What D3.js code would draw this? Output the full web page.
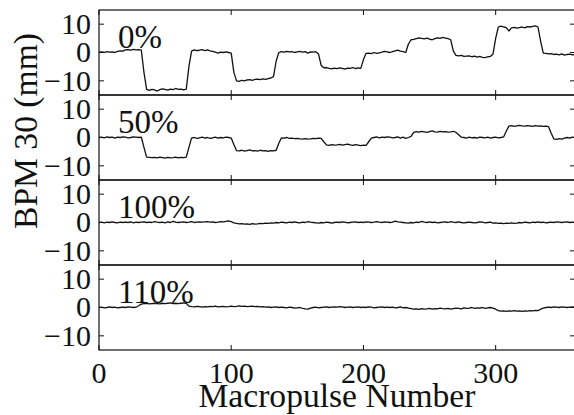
<!DOCTYPE html>
<html><head><meta charset="utf-8">
<script src="https://cdn.jsdelivr.net/npm/d3@7"></script>
<style>body{margin:0;background:#fff}svg{display:block}</style>
</head><body>
<svg id="chart" width="574" height="415" font-family="Liberation Serif"></svg>
<script>
// Sampling interval of the traces (macropulses between stored points)
const pulseStep = 2;
const xTicks = [0, 100, 200, 300];
const yTicks = [-10, 0, 10];
const panelLabels = ["0%", "50%", "100%", "110%"];
const xTitle = "Macropulse Number";
const yTitle = "BPM 30 (mm)";

const bpm0 = [
  0.1, 0.2, 0.0, 0.3, 0.1, 0.2, 0.0, 0.4, 0.6, 0.5,
  0.9, 1.0, 0.8, 1.1, 0.9, 1.0, 0.8, -7.0, -13.0, -13.4,
  -13.0, -13.2, -13.6, -13.1, -12.8, -13.0, -13.3, -12.9, -13.1, -12.7,
  -13.0, -12.9, -13.2, -12.9, -5.0, 0.5, 0.9, 0.7, 0.8, 1.0,
  0.7, 0.9, 0.6, 0.4, 0.1, -0.2, 0.1, 0.0, 0.2, 0.0,
  -0.2, -7.0, -10.0, -10.2, -9.8, -10.0, -9.7, -9.6, -9.8, -9.5,
  -9.4, -9.6, -9.3, -9.5, -9.2, -9.0, -8.5, -3.0, 0.0, 0.3,
  0.1, 0.4, 0.2, 0.3, 0.0, 0.2, 0.4, 0.1, 0.3, -0.2,
  0.2, 0.1, 0.3, -0.5, -4.5, -5.4, -5.3, -5.6, -5.8, -5.5,
  -5.7, -5.4, -5.6, -5.9, -5.5, -5.6, -5.3, -5.7, -5.4, -5.6,
  -2.5, -0.3, -0.2, -0.4, 0.0, -0.3, -0.1, 0.1, 0.4, 0.2,
  0.0, 0.3, 0.6, 0.8, 0.5, 0.3, 0.0, 3.0, 4.5, 4.6,
  4.9, 5.2, 5.0, 4.8, 5.1, 4.7, 4.5, 4.9, 5.2, 5.0,
  5.3, 5.1, 4.9, 4.5, 0.5, -1.0, -1.2, -1.0, -1.4, -1.3,
  -1.2, -1.5, -1.3, -1.6, -1.4, -1.7, -1.8, -1.5, -1.4, -0.5,
  5.0, 9.0, 9.3, 9.0, 8.8, 7.6, 8.7, 8.9, 8.6, 8.8,
  9.0, 8.7, 9.1, 9.0, 9.2, 9.4, 9.0, 4.0, -0.2, -0.3,
  -0.5, -0.4, -0.7, -0.6, -0.8, -0.5, -0.9, -0.7, -0.6, -0.8,
  -0.7
];
const bpm50 = [
  0.0, 0.1, -0.1, 0.2, 0.0, 0.1, -0.2, 0.1, 0.0, 0.2,
  0.1, -0.1, 0.0, 0.2, 0.1, 0.0, 0.1, -3.5, -6.9, -7.0,
  -7.1, -7.0, -7.2, -6.9, -7.1, -7.3, -7.0, -7.2, -7.1, -6.9,
  -7.2, -7.0, -7.1, -6.9, -3.5, -0.2, 0.0, -0.3, -0.1, 0.1,
  -0.2, 0.0, -0.3, -0.1, 0.1, -0.2, 0.0, -0.1, 0.1, 0.0,
  -0.2, -2.5, -4.6, -4.7, -4.5, -4.8, -4.6, -4.4, -4.7, -4.6,
  -4.8, -4.5, -4.7, -4.6, -4.9, -4.6, -4.7, -4.5, -2.0, -0.1,
  -0.2, 0.0, -0.3, -0.2, -0.4, -0.3, -0.5, -0.6, -0.4, -0.6,
  -0.5, -0.3, -0.4, -0.2, -0.3, -1.5, -2.6, -2.8, -2.5, -2.7,
  -2.6, -2.4, -2.7, -2.5, -2.3, -2.6, -2.8, -2.5, -2.7, -2.9,
  -2.7, -2.8, -1.5, -0.2, 0.0, 0.2, -0.1, 0.1, 0.0, 0.2,
  0.1, -0.1, 0.0, 0.2, -0.2, 0.1, -0.3, 0.0, 0.4, 1.8,
  2.1, 1.9, 2.2, 2.0, 1.8, 2.1, 2.3, 2.0, 1.9, 2.2,
  2.0, 2.1, 1.9, 2.0, 2.2, 1.8, 1.0, 0.1, 0.0, -0.2,
  0.1, -0.1, 0.0, -0.2, 0.1, 0.0, -0.1, 0.1, -0.2, 0.0,
  0.1, -0.1, 0.0, 0.2, 2.2, 4.0, 4.2, 3.9, 4.1, 4.3,
  4.1, 4.0, 4.2, 4.1, 3.9, 4.2, 4.0, 4.1, 3.9, 4.0,
  3.8, 1.5, -0.5, -0.7, -0.4, -0.6, -0.2, 0.0, -0.2, 0.1,
  0.0
];
const bpm100 = [
  0.0, 0.1, -0.1, 0.1, 0.0, 0.2, 0.0, -0.1, 0.1, 0.0,
  0.1, 0.0, 0.2, -0.1, 0.1, 0.0, 0.1, 0.2, 0.0, 0.1,
  0.0, 0.3, 0.1, 0.0, 0.1, -0.1, 0.2, 0.0, 0.4, 0.1,
  0.0, 0.1, 0.2, 0.0, 0.1, 0.3, 0.0, 0.1, 0.2, 0.1,
  0.2, 0.3, 0.1, 0.2, 0.0, 0.1, 0.3, 0.2, 0.4, 0.6,
  0.3, -0.1, -0.3, -0.5, -0.4, -0.6, -0.5, -0.7, -0.4, -0.6,
  -0.5, -0.3, -0.4, -0.2, -0.3, -0.1, -0.2, 0.0, -0.1, 0.1,
  0.0, -0.1, 0.1, 0.0, 0.2, 0.0, -0.1, 0.1, 0.0, 0.3,
  0.1, 0.0, -0.1, -0.2, 0.0, -0.1, 0.1, 0.0, -0.2, 0.0,
  0.1, 0.0, 0.2, 0.1, -0.1, 0.0, 0.1, 0.2, 0.0, 0.1,
  0.0, 0.2, 0.1, 0.0, 0.1, 0.3, 0.1, 0.0, 0.2, 0.1,
  0.0, 0.1, 0.5, 0.2, 0.1, 0.0, -0.1, -0.2, 0.0, -0.1,
  0.1, 0.0, 0.4, 0.1, 0.0, 0.2, 0.0, 0.1, -0.1, 0.0,
  0.1, 0.2, 0.0, 0.3, 0.1, 0.0, 0.2, 0.0, -0.1, 0.0,
  0.1, 0.0, -0.1, 0.0, 0.2, 0.1, -0.1, 0.0, 0.1, -0.2,
  -0.1, -0.3, -0.2, -0.4, -0.2, -0.3, -0.1, -0.3, -0.2, 0.0,
  -0.1, 0.1, 0.0, -0.1, 0.1, 0.0, 0.2, 0.0, 0.1, -0.1,
  0.0, 0.1, 0.0, 0.2, 0.1, 0.0, 0.1, 0.2, 0.0, 0.1,
  0.0
];
const bpm110 = [
  0.0, 0.1, -0.1, 0.0, 0.2, 0.0, 0.1, -0.1, 0.0, 0.1,
  0.0, 0.2, 0.1, 0.0, 0.1, 0.6, 1.2, 1.4, 1.5, 1.3,
  1.4, 1.5, 1.4, 1.3, 1.5, 1.4, 1.5, 1.6, 1.4, 1.5,
  1.4, 1.5, 1.6, 1.5, 0.5, 0.3, 0.2, 0.4, 0.3, 0.1,
  0.3, 0.2, 0.4, 0.3, 0.5, 0.2, 0.3, 0.4, 0.2, 0.3,
  0.5, 0.3, 0.4, 0.6, 0.4, 0.5, 0.3, 0.4, 0.5, 0.3,
  0.4, 0.2, 0.3, 0.1, 0.2, 0.0, 0.1, 0.2, 0.0, 0.1,
  0.0, -0.1, 0.1, 0.0, -0.2, -0.1, 0.0, -0.3, -0.5, -0.6,
  -0.2, 0.0, 0.1, -0.1, 0.0, 0.1, 0.2, 0.0, 0.1, 0.2,
  0.1, 0.3, 0.2, 0.0, 0.1, 0.2, 0.0, 0.1, 0.2, 0.0,
  0.1, 0.0, 0.2, 0.1, -0.1, 0.0, 0.1, 0.2, 0.0, 0.1,
  0.0, 0.1, -0.1, 0.0, 0.2, -0.1, 0.0, -0.2, -0.4, -0.6,
  -0.5, -0.7, -0.4, -0.6, -0.5, -0.3, -0.6, -0.4, -0.5, -0.2,
  -0.4, -0.5, -0.3, -0.6, -0.4, -0.2, -0.3, -0.5, -0.1, -0.3,
  -0.2, 0.0, -0.3, -0.1, -0.2, 0.0, -0.3, -0.1, 0.0, -0.2,
  -0.6, -1.1, -1.3, -1.2, -1.4, -1.2, -1.3, -1.1, -1.3, -1.2,
  -1.4, -1.2, -1.3, -1.1, -1.2, -1.0, -1.1, -0.6, -0.2, 0.0,
  0.1, 0.0, 0.2, 0.1, 0.0, 0.2, 0.1, 0.0, 0.1, 0.2,
  0.1
];
const series = [bpm0, bpm50, bpm100, bpm110];

const INK = "#111";
const left = 99, right = 575, top0 = 10, panelH = 85;

const svg = d3.select("#chart");
const x = d3.scaleLinear().domain([0, 360]).range([left, right]);

function addText(parent, size) {
  return parent.append("text")
    .style("font-family", "Liberation Serif")
    .style("font-size", size + "px")
    .attr("fill", INK);
}

series.forEach((vals, i) => {
  const top = top0 + i * panelH;
  const y = d3.scaleLinear().domain([-15, 15]).range([top + panelH, top]);
  const g = svg.append("g");

  // data line
  g.append("path")
    .datum(vals)
    .attr("fill", "none")
    .attr("stroke", INK)
    .attr("stroke-width", 1.3)
    .attr("stroke-linejoin", "round")
    .attr("d", d3.line().x((d, j) => x(j * pulseStep)).y(d => y(d)));

  // inward tick marks on all four sides
  yTicks.forEach(t => {
    g.append("line").attr("x1", left).attr("x2", left + 5)
      .attr("y1", y(t)).attr("y2", y(t)).attr("stroke", INK);
    g.append("line").attr("x1", right - 5).attr("x2", right)
      .attr("y1", y(t)).attr("y2", y(t)).attr("stroke", INK);
    addText(g, 30)
      .attr("x", left - 8).attr("y", y(t)).attr("dy", "0.33em")
      .attr("text-anchor", "end")
      .text(d3.format("")(t));
  });
  xTicks.forEach(t => {
    g.append("line").attr("x1", x(t)).attr("x2", x(t))
      .attr("y1", top).attr("y2", top + 5).attr("stroke", INK);
    g.append("line").attr("x1", x(t)).attr("x2", x(t))
      .attr("y1", top + panelH - 5).attr("y2", top + panelH).attr("stroke", INK);
    if (i === series.length - 1) {
      addText(g, 30)
        .attr("x", x(t)).attr("y", top + panelH + 33)
        .attr("text-anchor", "middle")
        .text(t);
    }
  });

  // frame
  g.append("rect")
    .attr("x", left).attr("y", top)
    .attr("width", right - left).attr("height", panelH)
    .attr("fill", "none").attr("stroke", INK).attr("stroke-width", 1.2);

  // panel label
  addText(g, 33)
    .attr("x", x(14.3)).attr("y", top + 37.6)
    .text(panelLabels[i]);
});

addText(svg, 33.6)
  .attr("x", (left + right) / 2).attr("y", 407)
  .attr("text-anchor", "middle")
  .text(xTitle);

addText(svg, 33.6)
  .attr("transform", "translate(37,131) rotate(-90)")
  .attr("text-anchor", "middle")
  .text(yTitle);
</script>
</body></html>
